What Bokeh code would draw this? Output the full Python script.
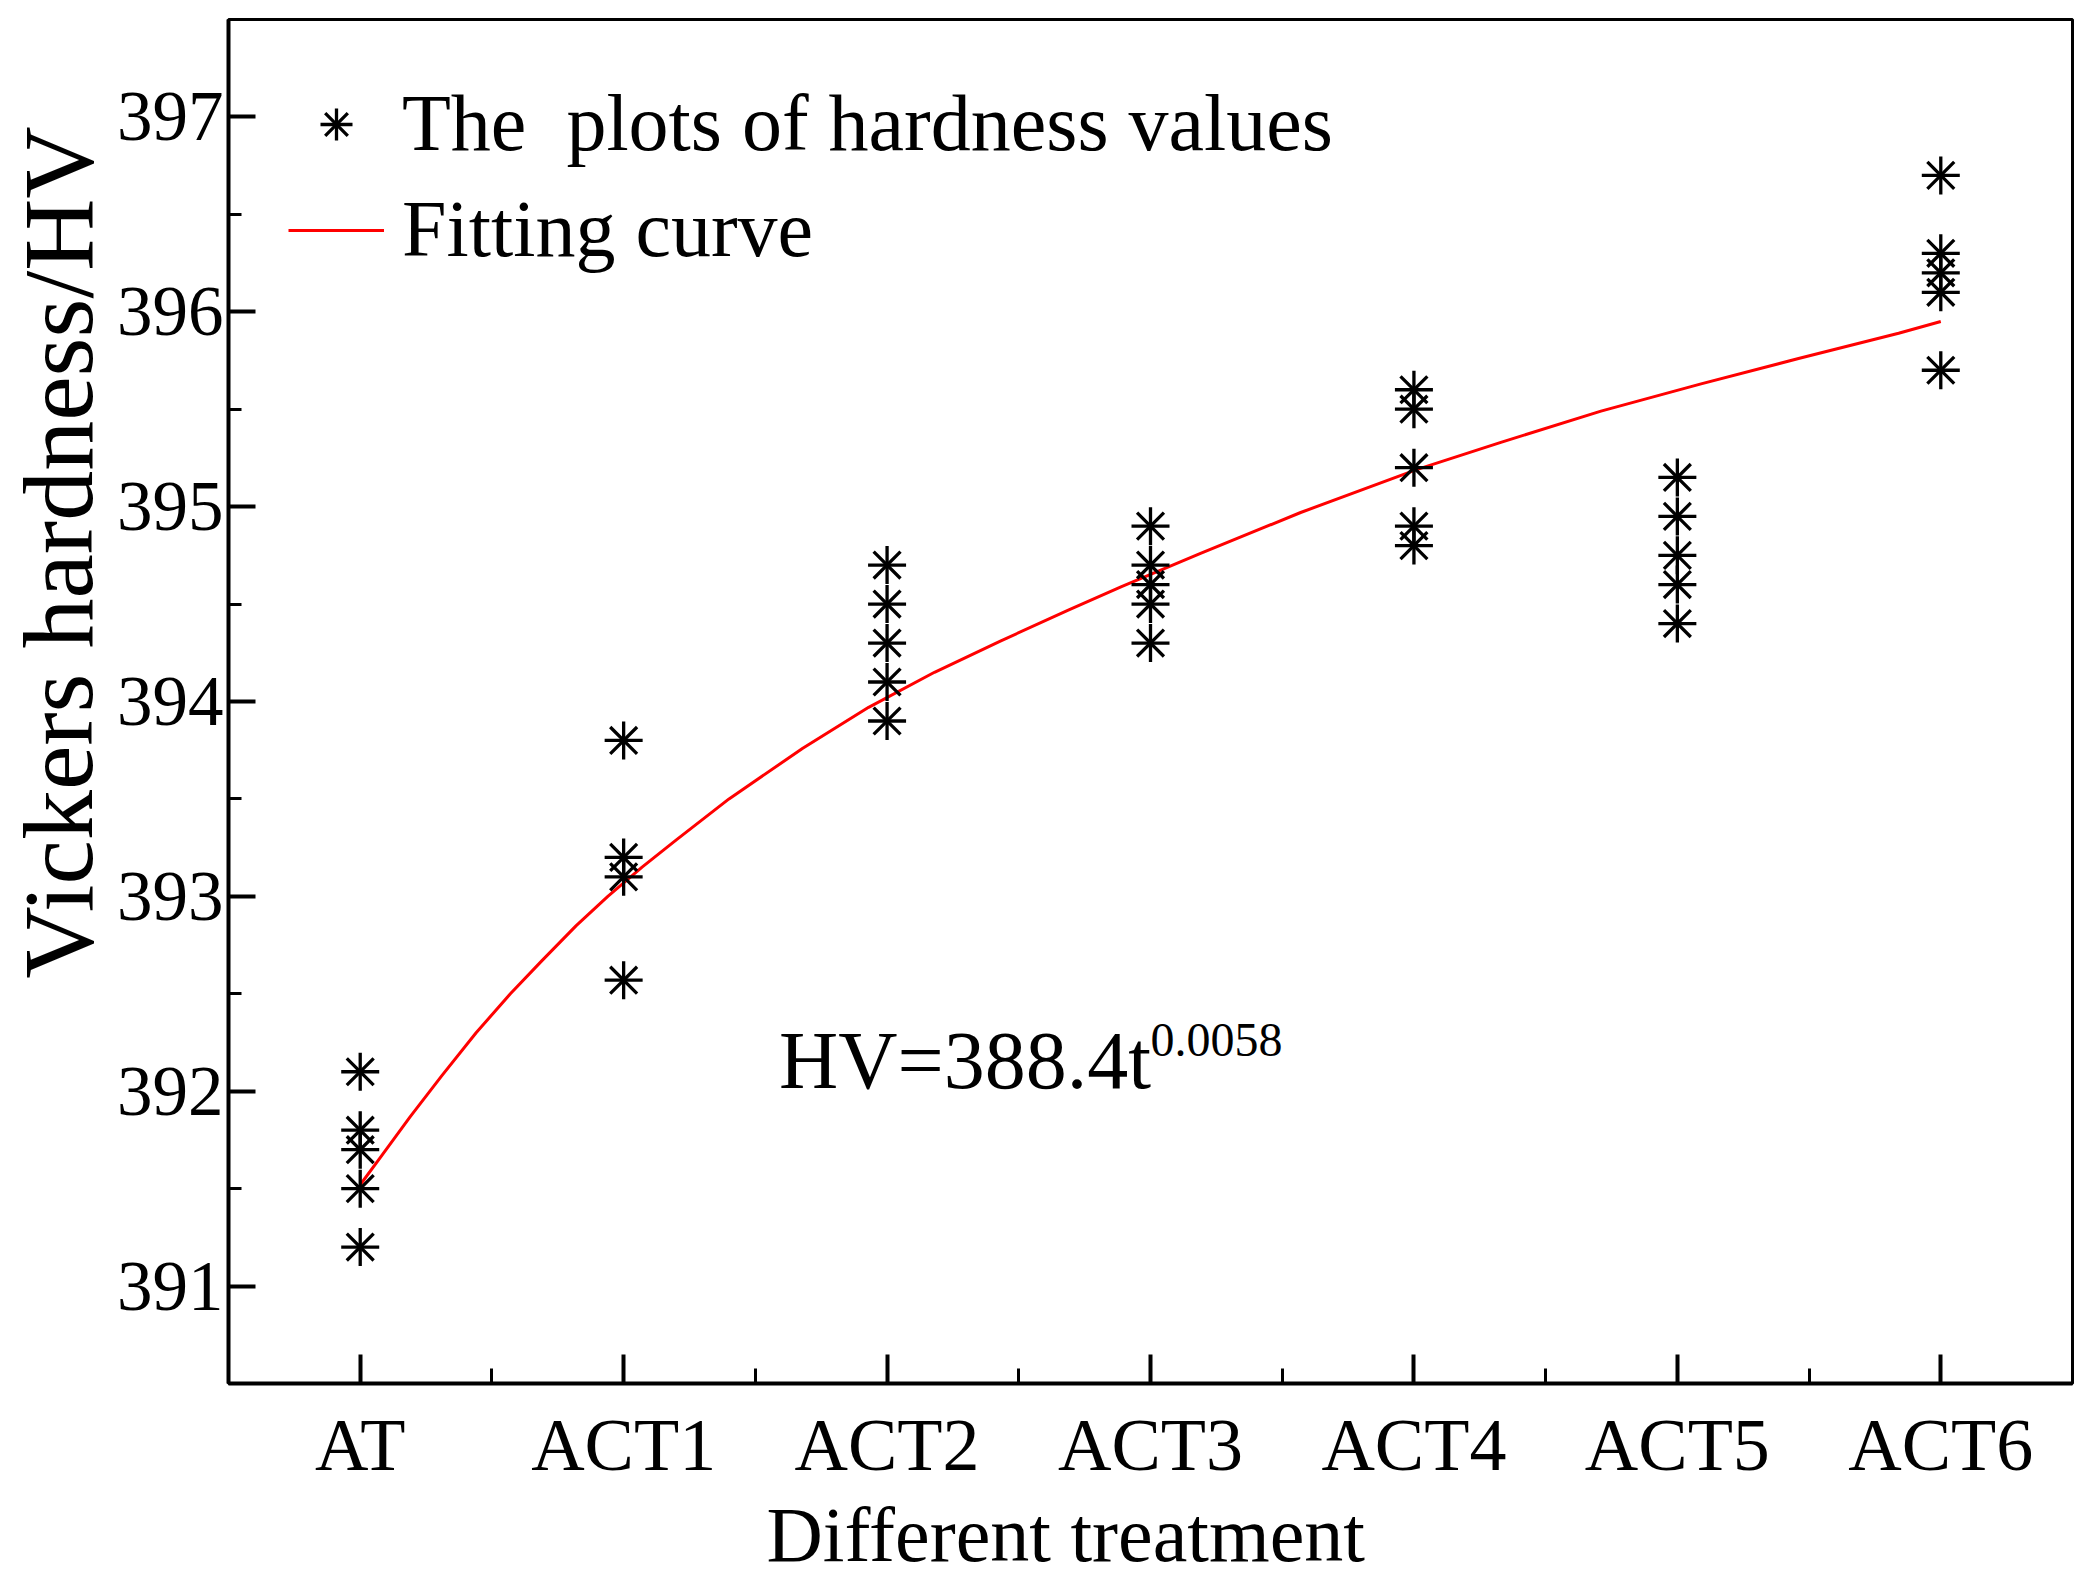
from bokeh.plotting import figure
from bokeh.models import ColumnDataSource, FixedTicker, Label, Legend, LegendItem, Title
from bokeh.embed import file_html
from bokeh.resources import INLINE

treatments = ["AT", "ACT1", "ACT2", "ACT3", "ACT4", "ACT5", "ACT6"]
hv_AT = [392.1, 391.8, 391.7, 391.5, 391.2]
hv_ACT1 = [393.8, 393.2, 393.1, 392.57]
hv_ACT2 = [394.7, 394.5, 394.3, 394.1, 393.9]
hv_ACT3 = [394.9, 394.7, 394.6, 394.5, 394.3]
hv_ACT4 = [395.6, 395.5, 395.2, 394.9, 394.8]
hv_ACT5 = [395.15, 394.95, 394.75, 394.6, 394.4]
hv_ACT6 = [396.7, 396.3, 396.2, 396.1, 395.7]

# fitting curve (x = treatment position)
curve_x = [0, 0.06, 0.19, 0.31, 0.44, 0.57, 0.69, 0.82, 0.94, 1.07, 1.2, 1.4,
           1.68, 1.93, 2.18, 2.43, 2.69, 2.89, 3.19, 3.57, 4.01, 4.33, 4.71,
           5.09, 5.46, 5.84, 6.0]
curve_y = [391.52, 391.63, 391.87, 392.08, 392.30, 392.50, 392.67, 392.85,
           393.00, 393.15, 393.29, 393.50, 393.76, 393.97, 394.15, 394.31,
           394.47, 394.59, 394.76, 394.97, 395.19, 395.33, 395.49, 395.63,
           395.76, 395.89, 395.95]

y_ticks = [391, 392, 393, 394, 395, 396, 397]
y_minor = [391.5, 392.5, 393.5, 394.5, 395.5, 396.5]
x_minor = [0.5, 1.5, 2.5, 3.5, 4.5, 5.5]

groups = [hv_AT, hv_ACT1, hv_ACT2, hv_ACT3, hv_ACT4, hv_ACT5, hv_ACT6]
xs, ys = [], []
for i, vals in enumerate(groups):
    xs += [i] * len(vals)
    ys += vals
source = ColumnDataSource(data=dict(x=xs, y=ys))

FONT = "Liberation Serif"
W, H = 2075, 1577

p = figure(width=W, height=H, x_range=(-0.5, 6.5), y_range=(390.5, 397.5),
           output_backend="svg", toolbar_location=None, tools="",
           min_border_left=227, min_border_right=3, min_border_top=19,
           min_border_bottom=187)

p.grid.visible = False
p.outline_line_color = "black"
p.outline_line_width = 3

fit = p.line(curve_x, curve_y, line_color="#ff0000", line_width=3)

# asterisk = cross + x with the same size
r_cross = p.scatter("x", "y", source=source, marker="cross", size=38,
                    line_color="black", line_width=3.3)
r_x = p.scatter("x", "y", source=source, marker="x", size=38,
                line_color="black", line_width=3.3)

# axes
p.xaxis.ticker = FixedTicker(ticks=list(range(len(treatments))), minor_ticks=x_minor)
p.xaxis.major_label_overrides = {i: t for i, t in enumerate(treatments)}
p.yaxis.ticker = FixedTicker(ticks=y_ticks, minor_ticks=y_minor)

for ax in (p.xaxis, p.yaxis):
    ax.axis_line_width = 4
    ax.axis_line_color = "black"
    ax.major_tick_out = 0
    ax.minor_tick_out = 0
    ax.major_tick_line_width = 4
    ax.minor_tick_line_width = 3
    ax.major_label_text_font = FONT
    ax.major_label_text_color = "black"

p.xaxis.major_tick_in = 29
p.xaxis.minor_tick_in = 15
p.xaxis.major_label_text_font_size = "74px"
p.xaxis.major_label_standoff = 20

p.yaxis.major_tick_in = 27
p.yaxis.minor_tick_in = 13
p.yaxis.major_label_text_font_size = "71px"
p.yaxis.major_label_standoff = 5

# axis titles, placed as side titles so they can be shifted along the axis
p.add_layout(Title(text="Different treatment", align="left", offset=538,
                   standoff=0, text_font=FONT, text_font_size="78px",
                   text_font_style="normal", text_color="black"), "below")
p.add_layout(Title(text="Vickers hardness/HV", align="left", offset=405,
                   standoff=0, text_font=FONT, text_font_size="100px",
                   text_font_style="normal", text_color="black"), "left")

# fitted equation
p.add_layout(Label(x=1.59, y=392.16, text="HV=388.4t", text_align="left",
                   text_baseline="alphabetic", text_font=FONT,
                   text_font_size="82px", text_color="black"))
p.add_layout(Label(x=3.0, y=392.265, text="0.0058", text_align="left",
                   text_baseline="alphabetic", text_font=FONT,
                   text_font_size="48px", text_color="black"))

legend = Legend(items=[LegendItem(label="The  plots of hardness values", renderers=[r_cross, r_x]),
                       LegendItem(label="Fitting curve", renderers=[fit])],
                location=(60, 1108), glyph_width=96, glyph_height=80,
                label_height=80, label_standoff=18, spacing=15, padding=0,
                margin=0, border_line_color=None, background_fill_alpha=0,
                label_text_font=FONT, label_text_font_size="80px",
                label_text_color="black")
p.add_layout(legend)

open("out.html", "w").write(file_html(p, INLINE))
